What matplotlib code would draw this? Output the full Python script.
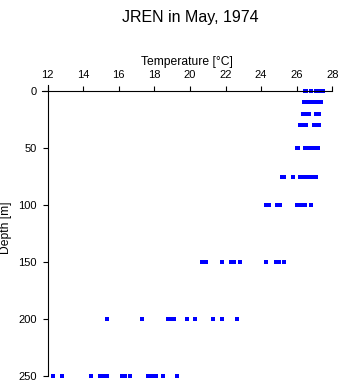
import matplotlib
matplotlib.use('Agg')
import matplotlib.pyplot as plt

plt.rcParams['font.family'] = ['Liberation Sans', 'DejaVu Sans']

# depth [m] and temperature [degC] samples
depths = [0, 10, 20, 30, 50, 75, 100, 150, 200, 250]
temps = [
    [26.47, 26.52, 26.78, 27.08, 27.20, 27.31, 27.48],
    [26.41, 26.52, 26.63, 26.75, 26.86, 26.97, 27.08, 27.20, 27.31, 27.37],
    [26.35, 26.49, 26.69, 27.11, 27.28],
    [26.21, 26.35, 26.52, 26.97, 27.14, 27.28],
    [25.99, 26.10, 26.47, 26.63, 26.80, 26.97, 27.14, 27.22],
    [25.17, 25.29, 25.82, 26.21, 26.38, 26.55, 26.72, 26.86, 27.08],
    [24.28, 24.42, 24.89, 25.06, 25.99, 26.13, 26.33, 26.49, 26.80],
    [20.68, 20.90, 21.78, 22.28, 22.48, 22.79, 24.30, 24.81, 25.03, 25.31],
    [15.31, 17.31, 18.77, 18.99, 19.10, 19.81, 20.31, 21.30, 21.78, 22.62],
    [12.31, 12.79, 14.42, 14.92, 15.09, 15.31, 16.19, 16.33, 16.61, 17.67,
     17.84, 18.12, 18.49, 19.30],
]

xs = []
ys = []
for d, row in zip(depths, temps):
    xs += row
    ys += [d] * len(row)

fig = plt.figure(figsize=(3.41, 3.84), dpi=100)
ax = fig.add_axes([0.124, 0.0208, 0.8504, 0.7578])

ax.plot(xs, ys, ls='none', marker='s', ms=2.2, mew=0, color='#0000ff', clip_on=False)

ax.set_xlim(11.7, 28)
ax.set_ylim(250, -5.3)
ax.set_xticks(range(12, 29, 2))
ax.set_yticks([0, 50, 100, 150, 200, 250])

ax.spines['right'].set_visible(False)
ax.spines['bottom'].set_visible(False)
ax.spines['top'].set_position(('data', 0))
ax.spines['left'].set_position(('data', 12))
for s in ('top', 'left'):
    ax.spines[s].set_linewidth(0.8)

ax.xaxis.tick_top()
ax.xaxis.set_label_position('top')
ax.tick_params(direction='out', length=3.6, width=0.8, pad=4.3, labelsize=8)

ax.set_xlabel('Temperature [°C]', fontsize=8.7, labelpad=4)
ax.set_ylabel('Depth [m]', fontsize=8.7)
ax.yaxis.set_label_coords(-0.104, 0.51)

fig.text(0.557, 0.955, 'JREN in May, 1974', ha='center', va='center', fontsize=11.5)

fig.savefig('out.png', dpi=100)
